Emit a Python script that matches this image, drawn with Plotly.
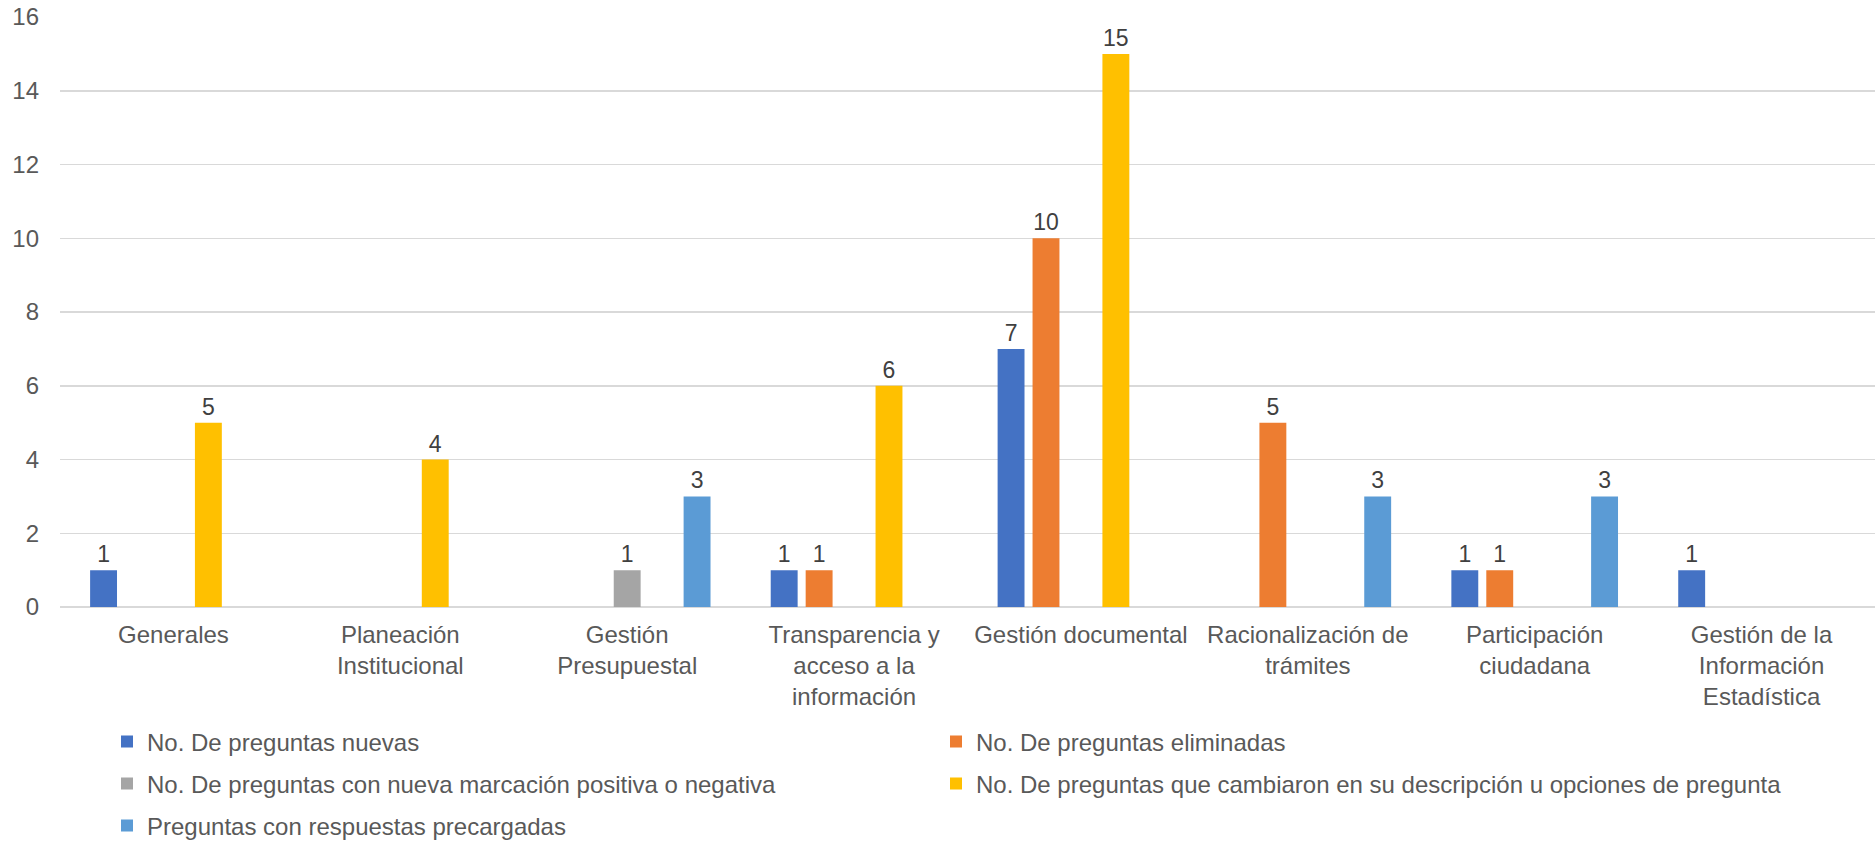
import plotly.graph_objects as go

categories = [
    "Generales",
    "Planeación<br>Institucional",
    "Gestión<br>Presupuestal",
    "Transparencia y<br>acceso a la<br>información",
    "Gestión documental",
    "Racionalización de<br>trámites",
    "Participación<br>ciudadana",
    "Gestión de la<br>Información<br>Estadística",
]

series_names = [
    "No. De preguntas nuevas",
    "No. De preguntas eliminadas",
    "No. De preguntas con nueva marcación positiva o negativa",
    "No. De preguntas que cambiaron en su descripción u opciones de pregunta",
    "Preguntas con respuestas precargadas",
]

nuevas = [1, 0, 0, 1, 7, 0, 1, 1]
eliminadas = [0, 0, 0, 1, 10, 5, 1, 0]
marcacion = [0, 0, 1, 0, 0, 0, 0, 0]
cambiaron = [5, 4, 0, 6, 15, 0, 0, 0]
precargadas = [0, 0, 3, 0, 0, 3, 3, 0]

colors = ["#4472C4", "#ED7D31", "#A5A5A5", "#FFC000", "#5B9BD5"]

W, H = 1875, 842
FONT = "Liberation Sans, Arial, sans-serif"

all_series = [nuevas, eliminadas, marcacion, cambiaron, precargadas]
legend_ids = ["legend", "legend2", "legend3", "legend4", "legend5"]

fig = go.Figure()
for name, vals, col, lid in zip(series_names, all_series, colors, legend_ids):
    yv = [v if v else None for v in vals]
    fig.add_trace(go.Bar(
        name=name,
        x=categories,
        y=yv,
        marker=dict(color=col, line=dict(width=0)),
        text=[str(v) if v else "" for v in vals],
        textposition="outside",
        textfont=dict(family=FONT, size=23, color="#404040"),
        cliponaxis=False,
        hoverinfo="skip",
        legend=lid,
    ))

# legend placement (pixel positions -> container fractions)
col_x = [107, 936]
row_y = [742, 784, 826]
slots = [(0, 0), (1, 0), (0, 1), (1, 1), (0, 2)]
legend_layout = {}
for lid, (c, r) in zip(legend_ids, slots):
    legend_layout[lid] = dict(
        x=col_x[c] / W, y=1 - row_y[r] / H,
        xref="container", yref="container",
        xanchor="left", yanchor="middle",
        orientation="h",
        font=dict(family=FONT, size=24, color="#595959"),
        bgcolor="rgba(0,0,0,0)",
        itemclick=False,
    )

fig.update_layout(
    width=W, height=H,
    margin=dict(l=60, r=0, t=17, b=235),
    paper_bgcolor="white",
    plot_bgcolor="white",
    barmode="group",
    bargap=0.23,
    bargroupgap=0.23,
    font=dict(family=FONT, size=24, color="#595959"),
    showlegend=True,
    hovermode=False,
    **legend_layout,
)

fig.update_xaxes(
    showgrid=False,
    showline=False,
    zeroline=False,
    ticks="",
    tickangle=0,
    tickfont=dict(family=FONT, size=24, color="#595959"),
    ticklabelstandoff=11,
)
fig.update_yaxes(
    range=[0, 16],
    dtick=2,
    showgrid=True,
    gridcolor="#D9D9D9",
    gridwidth=1.5,
    zeroline=True,
    zerolinecolor="#D9D9D9",
    zerolinewidth=1.5,
    showline=False,
    ticks="",
    tickfont=dict(family=FONT, size=24, color="#595959"),
    ticklabelstandoff=20,
)

fig.write_html(
    "out.html",
    config={"displayModeBar": False, "staticPlot": True},
    post_script="document.body.style.margin='0';document.body.style.overflow='hidden';",
)
